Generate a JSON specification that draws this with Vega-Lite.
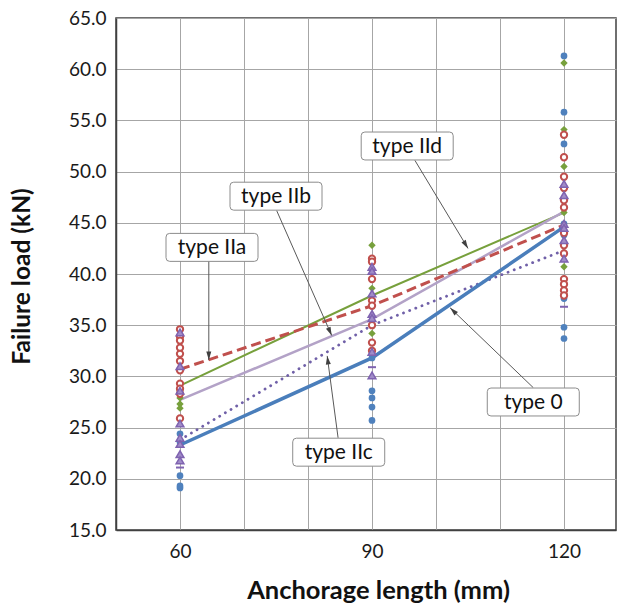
{
  "$schema": "https://vega.github.io/schema/vega-lite/v6.json",
  "width": 500,
  "height": 512,
  "autosize": "none",
  "padding": {"left": 116, "top": 18, "right": 1, "bottom": 75},
  "background": "white",
  "config": {
    "font": "Lato",
    "view": {"stroke": "#404040", "strokeWidth": 1.5}
  },
  "datasets": {
    "means": [
      {"length": 60, "load": 23.3, "type": "0"}, {"length": 90, "load": 31.8, "type": "0"}, {"length": 120, "load": 44.6, "type": "0"},
      {"length": 60, "load": 30.7, "type": "IIa"}, {"length": 90, "load": 36.9, "type": "IIa"}, {"length": 120, "load": 44.8, "type": "IIa"},
      {"length": 60, "load": 27.7, "type": "IIb"}, {"length": 90, "load": 35.6, "type": "IIb"}, {"length": 120, "load": 46.1, "type": "IIb"},
      {"length": 60, "load": 23.8, "type": "IIc"}, {"length": 90, "load": 35.0, "type": "IIc"}, {"length": 120, "load": 42.3, "type": "IIc"},
      {"length": 60, "load": 29.1, "type": "IId"}, {"length": 90, "load": 37.9, "type": "IId"}, {"length": 120, "load": 46.0, "type": "IId"}
    ],
    "pts": [
      {"length": 60, "load": 24.4, "type": "0"}, {"length": 60, "load": 23.6, "type": "0"}, {"length": 60, "load": 20.3, "type": "0"}, {"length": 60, "load": 19.1, "type": "0"}, {"length": 60, "load": 19.3, "type": "0"},
      {"length": 90, "load": 28.6, "type": "0"}, {"length": 90, "load": 27.9, "type": "0"}, {"length": 90, "load": 27.0, "type": "0"}, {"length": 90, "load": 25.7, "type": "0"}, {"length": 90, "load": 31.8, "type": "0"},
      {"length": 120, "load": 61.3, "type": "0"}, {"length": 120, "load": 55.8, "type": "0"}, {"length": 120, "load": 52.7, "type": "0"}, {"length": 120, "load": 44.9, "type": "0"}, {"length": 120, "load": 43.8, "type": "0"}, {"length": 120, "load": 37.6, "type": "0"}, {"length": 120, "load": 34.8, "type": "0"}, {"length": 120, "load": 33.7, "type": "0"},
      {"length": 60, "load": 34.6, "type": "IIa"}, {"length": 60, "load": 33.9, "type": "IIa"}, {"length": 60, "load": 33.5, "type": "IIa"}, {"length": 60, "load": 32.8, "type": "IIa"}, {"length": 60, "load": 32.2, "type": "IIa"}, {"length": 60, "load": 31.5, "type": "IIa"}, {"length": 60, "load": 30.6, "type": "IIa"}, {"length": 60, "load": 29.3, "type": "IIa"}, {"length": 60, "load": 28.8, "type": "IIa"}, {"length": 60, "load": 28.3, "type": "IIa"}, {"length": 60, "load": 25.9, "type": "IIa"},
      {"length": 90, "load": 41.5, "type": "IIa"}, {"length": 90, "load": 41.2, "type": "IIa"}, {"length": 90, "load": 39.5, "type": "IIa"}, {"length": 90, "load": 37.4, "type": "IIa"}, {"length": 90, "load": 36.9, "type": "IIa"}, {"length": 90, "load": 35.0, "type": "IIa"}, {"length": 90, "load": 33.3, "type": "IIa"}, {"length": 90, "load": 32.5, "type": "IIa"},
      {"length": 120, "load": 53.6, "type": "IIa"}, {"length": 120, "load": 51.4, "type": "IIa"}, {"length": 120, "load": 49.5, "type": "IIa"}, {"length": 120, "load": 48.4, "type": "IIa"}, {"length": 120, "load": 47.2, "type": "IIa"}, {"length": 120, "load": 46.5, "type": "IIa"}, {"length": 120, "load": 44.0, "type": "IIa"}, {"length": 120, "load": 42.8, "type": "IIa"}, {"length": 120, "load": 42.0, "type": "IIa"}, {"length": 120, "load": 39.5, "type": "IIa"}, {"length": 120, "load": 39.0, "type": "IIa"}, {"length": 120, "load": 38.4, "type": "IIa"}, {"length": 120, "load": 37.9, "type": "IIa"},
      {"length": 60, "load": 33.4, "type": "IId"}, {"length": 60, "load": 28.6, "type": "IId"}, {"length": 60, "load": 27.9, "type": "IId"}, {"length": 60, "load": 27.3, "type": "IId"}, {"length": 60, "load": 26.9, "type": "IId"},
      {"length": 90, "load": 42.8, "type": "IId"}, {"length": 90, "load": 38.6, "type": "IId"}, {"length": 90, "load": 34.2, "type": "IId"},
      {"length": 120, "load": 60.6, "type": "IId"}, {"length": 120, "load": 54.1, "type": "IId"}, {"length": 120, "load": 50.5, "type": "IId"}, {"length": 120, "load": 46.0, "type": "IId"}, {"length": 120, "load": 40.7, "type": "IId"}, {"length": 120, "load": 38.1, "type": "IId"},
      {"length": 60, "load": 34.3, "type": "IIc"}, {"length": 60, "load": 31.0, "type": "IIc"}, {"length": 60, "load": 28.6, "type": "IIc"}, {"length": 60, "load": 25.4, "type": "IIc"}, {"length": 60, "load": 24.0, "type": "IIc"}, {"length": 60, "load": 23.4, "type": "IIc"}, {"length": 60, "load": 22.4, "type": "IIc"}, {"length": 60, "load": 21.8, "type": "IIc"},
      {"length": 90, "load": 40.7, "type": "IIc"}, {"length": 90, "load": 40.3, "type": "IIc"}, {"length": 90, "load": 38.1, "type": "IIc"}, {"length": 90, "load": 36.1, "type": "IIc"}, {"length": 90, "load": 35.7, "type": "IIc"}, {"length": 90, "load": 32.4, "type": "IIc"}, {"length": 90, "load": 30.1, "type": "IIc"},
      {"length": 120, "load": 48.8, "type": "IIc"}, {"length": 120, "load": 47.7, "type": "IIc"}, {"length": 120, "load": 44.9, "type": "IIc"}, {"length": 120, "load": 44.5, "type": "IIc"}, {"length": 120, "load": 43.3, "type": "IIc"}, {"length": 120, "load": 41.5, "type": "IIc"},
      {"length": 60, "load": 21.1, "type": "IIb"}, {"length": 90, "load": 30.9, "type": "IIb"}, {"length": 120, "load": 36.8, "type": "IIb"}
    ],
    "notes": [
      {"label": "type IIa", "length": 65.0, "load": 42.6},
      {"label": "type IIb", "length": 75.0, "load": 47.6},
      {"label": "type IId", "length": 95.5, "load": 52.5},
      {"label": "type 0", "length": 115.2, "load": 27.5},
      {"label": "type IIc", "length": 84.8, "load": 22.6}
    ],
    "arrows": [
      {"label": "type IIa", "start_length": 64.5, "start_load": 41.5, "length": 64.5, "load": 31.6},
      {"label": "type IIb", "start_length": 75.1, "start_load": 46.2, "length": 83.7, "load": 34.0},
      {"label": "type IId", "start_length": 96.7, "start_load": 51.1, "length": 105.0, "load": 42.5},
      {"label": "type 0", "start_length": 115.2, "start_load": 28.9, "length": 102.2, "load": 36.7},
      {"label": "type IIc", "start_length": 84.7, "start_load": 24.0, "length": 83.0, "load": 32.0}
    ]
  },
  "encoding": {
    "x": {"field": "length", "type": "quantitative", "scale": {"domain": [50, 128.125], "nice": false, "zero": false},
      "axis": {"values": [50, 60, 70, 80, 90, 100, 110, 120], "labelExpr": "datum.value % 30 == 0 ? datum.label : ''", "format": "d", "ticks": false, "grid": true, "gridColor": "#A6A6A6", "gridWidth": 1, "domainColor": "#404040", "domainWidth": 1.5, "labelFontSize": 19, "labelColor": "#1a1a1a", "labelPadding": 12, "title": "Anchorage length (mm)", "titleFontSize": 25.5, "titleFontWeight": "bold", "titleColor": "#111", "titleX": 262, "titleY": 60, "titleBaseline": "middle"}},
    "y": {"field": "load", "type": "quantitative", "scale": {"domain": [15, 65], "nice": false, "zero": false},
      "axis": {"values": [15, 20, 25, 30, 35, 40, 45, 50, 55, 60, 65], "format": ".1f", "ticks": false, "grid": true, "gridColor": "#A6A6A6", "gridWidth": 1, "domainColor": "#404040", "domainWidth": 1.5, "labelFontSize": 19, "labelColor": "#1a1a1a", "labelPadding": 10, "title": "Failure load (kN)", "titleFontSize": 24.5, "titleFontWeight": "bold", "titleColor": "#111", "titleX": -94, "titleY": 258, "titleBaseline": "middle"}}
  },
  "layer": [
    {
      "data": {"name": "means"},
      "transform": [{"filter": "datum.type == 'IId'"}],
      "mark": {"type": "line", "color": "#77A03C", "strokeWidth": 2}
    },
    {
      "data": {"name": "means"},
      "transform": [{"filter": "datum.type == 'IIb'"}],
      "mark": {"type": "line", "color": "#B3A2C7", "strokeWidth": 2.5}
    },
    {
      "data": {"name": "means"},
      "transform": [{"filter": "datum.type == 'IIc'"}],
      "mark": {"type": "line", "color": "#7060A8", "strokeWidth": 2.8, "strokeDash": [0.1, 6.5], "strokeCap": "round"}
    },
    {
      "data": {"name": "means"},
      "transform": [{"filter": "datum.type == 'IIa'"}],
      "mark": {"type": "line", "color": "#C0504D", "strokeWidth": 3, "strokeDash": [10, 5]}
    },
    {
      "data": {"name": "means"},
      "transform": [{"filter": "datum.type == '0'"}],
      "mark": {"type": "line", "color": "#4A7EBB", "strokeWidth": 3.5}
    },
    {
      "data": {"name": "pts"},
      "transform": [{"filter": "datum.type == '0'"}],
      "mark": {"type": "point", "shape": "circle", "filled": true, "fill": "#4F81BD", "size": 45, "opacity": 1}
    },
    {
      "data": {"name": "pts"},
      "transform": [{"filter": "datum.type == 'IId'"}],
      "mark": {"type": "point", "shape": "diamond", "filled": true, "fill": "#77A03C", "size": 55, "opacity": 1}
    },
    {
      "data": {"name": "pts"},
      "transform": [{"filter": "datum.type == 'IIa'"}],
      "mark": {"type": "point", "shape": "circle", "filled": false, "fill": "white", "fillOpacity": 1, "stroke": "#C0504D", "strokeWidth": 2, "size": 40, "opacity": 1}
    },
    {
      "data": {"name": "pts"},
      "transform": [{"filter": "datum.type == 'IIc'"}],
      "mark": {"type": "point", "shape": "triangle-up", "filled": true, "fill": "#A08CC8", "stroke": "#7F63B0", "strokeWidth": 1.5, "size": 60, "opacity": 1}
    },
    {
      "data": {"name": "pts"},
      "transform": [{"filter": "datum.type == 'IIb'"}],
      "mark": {"type": "point", "shape": "M-1,0L1,0", "filled": false, "stroke": "#7F63B0", "strokeWidth": 2, "size": 64, "opacity": 1}
    },
    {
      "data": {"name": "arrows"},
      "mark": {"type": "rule", "color": "#595959", "strokeWidth": 1},
      "encoding": {
        "x2": {"field": "start_length"},
        "y2": {"field": "start_load"}
      }
    },
    {
      "data": {"name": "arrows"},
      "transform": [{"calculate": "atan2((datum.length - datum.start_length) * 6.4, (datum.load - datum.start_load) * 10.24) * 180 / PI", "as": "ang"}],
      "mark": {"type": "point", "shape": "M0,0L0.5,1.7L-0.5,1.7Z", "filled": true, "fill": "#404040", "size": 100, "opacity": 1},
      "encoding": {
        "angle": {"field": "ang", "type": "quantitative", "scale": null}
      }
    },
    {
      "data": {"name": "notes"},
      "mark": {"type": "point", "shape": "M-0.92,-0.304L0.92,-0.304Q1,-0.304 1,-0.224L1,0.224Q1,0.304 0.92,0.304L-0.92,0.304Q-1,0.304 -1,0.224L-1,-0.224Q-1,-0.304 -0.92,-0.304Z", "filled": true, "fill": "white", "stroke": "#8C8C8C", "strokeWidth": 1, "size": 8464, "opacity": 1}
    },
    {
      "data": {"name": "notes"},
      "mark": {"type": "text", "font": "Lato", "fontSize": 21, "color": "#111", "align": "center", "baseline": "middle", "dy": 1},
      "encoding": {
        "text": {"field": "label"}
      }
    }
  ]
}
